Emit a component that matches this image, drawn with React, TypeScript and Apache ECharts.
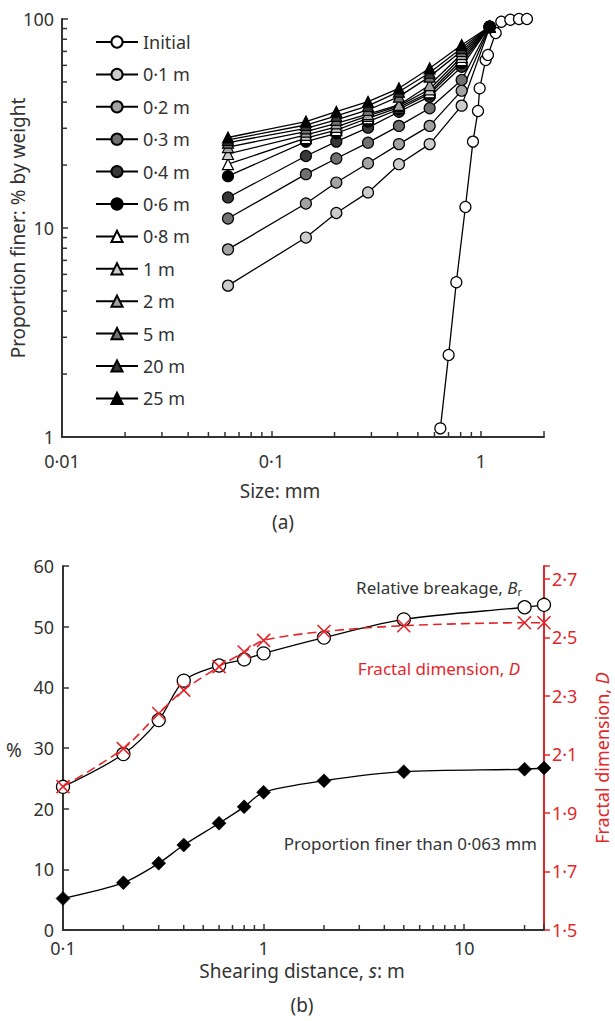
import React, { useEffect, useRef } from "react";
import * as echarts from "echarts";

// ---------- Panel (a) data ----------
const sieveSizes = [0.062, 0.146, 0.204, 0.289, 0.406, 0.569, 0.809, 1.1];
const initialSizes = [0.64, 0.701, 0.763, 0.843, 0.916, 0.968, 0.986, 1.053, 1.08, 1.176, 1.251, 1.381, 1.519, 1.658];
const initialFiner = [1.1, 2.47, 5.5, 12.6, 25.9, 36.3, 46.6, 63.6, 67.3, 85.7, 97, 99.2, 100, 100];

const s01 = [5.3, 9.0, 11.8, 14.8, 20.2, 25.2, 38.5, 91];
const s02 = [7.9, 13.1, 16.5, 20.4, 25.2, 30.8, 45.4, 91.5];
const s03 = [11.1, 18.1, 21.5, 25.6, 30.8, 37.4, 51.1, 92];
const s04 = [14.0, 22.1, 25.9, 30.2, 36.0, 42.5, 59.1, 92];
const s06 = [17.7, 25.9, 28.4, 32.3, 37.0, 43.8, 61.6, 92];
const s08 = [20.2, 26.9, 29.4, 33.5, 37.8, 44.6, 63.6, 92];
const s1 = [22.6, 27.9, 30.5, 34.4, 38.4, 46.1, 65.8, 92];
const s2 = [24.4, 28.9, 31.7, 35.1, 38.8, 48.3, 68.0, 92];
const s5 = [25.6, 30.0, 32.9, 36.7, 42.5, 53.0, 70.3, 92];
const s20 = [26.4, 31.1, 34.4, 38.4, 44.9, 55.3, 72.6, 92];
const s25 = [27.1, 32.3, 36.0, 40.2, 46.6, 58.1, 75.1, 92];

const seriesNamesA = ["Initial", "0·1 m", "0·2 m", "0·3 m", "0·4 m", "0·6 m", "0·8 m", "1 m", "2 m", "5 m", "20 m", "25 m"];

const xMinorA = [0.02, 0.03, 0.04, 0.05, 0.06, 0.07, 0.08, 0.09, 0.2, 0.3, 0.4, 0.5, 0.6, 0.7, 0.8, 0.9];
const yMinorA = [2, 3, 4, 5, 6, 7, 8, 9, 20, 30, 40, 50, 60, 70, 80, 90];

// ---------- Panel (b) data ----------
const shearDist = [0.1, 0.2, 0.3, 0.4, 0.6, 0.8, 1, 2, 5, 20, 25];
const relBreakage = [23.6, 29.0, 34.6, 41.1, 43.6, 44.6, 45.6, 48.2, 51.2, 53.2, 53.6];
const fractalD = [1.99, 2.12, 2.24, 2.32, 2.40, 2.45, 2.49, 2.52, 2.54, 2.55, 2.55];
const finer063 = [5.2, 7.8, 11.0, 14.0, 17.6, 20.3, 22.7, 24.6, 26.1, 26.5, 26.7];

const xMinorB = [0.2, 0.3, 0.4, 0.5, 0.6, 0.7, 0.8, 0.9, 2, 3, 4, 5, 6, 7, 8, 9, 20];

const FONT = '"Noto Sans", sans-serif';
const FS = 18;
const FT = 19;
const TXT = "#333";
const AX = "#333";
const RED = "#e3262b";

const dot = (s: string) => s.replace(".", "·");

function logLabel(v: number) {
  const l = Math.log10(v);
  if (Math.abs(l - Math.round(l)) > 1e-6) return "";
  return dot(String(Number(v.toPrecision(6))));
}

function tickSeries(xi: number, yi: number, data: number[][], dx: number, dy: number, color: string) {
  return {
    type: "custom",
    xAxisIndex: xi,
    yAxisIndex: yi,
    silent: true,
    clip: false,
    z: 1,
    encode: { x: 0, y: 1 },
    data,
    renderItem: (params: any, api: any) => {
      const p = api.coord([api.value(0), api.value(1)]);
      return {
        type: "line",
        shape: { x1: p[0], y1: p[1], x2: p[0] + dx, y2: p[1] + dy },
        style: { stroke: color, lineWidth: 1.5 },
      };
    },
  };
}

export default function App() {
  const ref = useRef<HTMLDivElement>(null);
  useEffect(() => {
    document.body.style.margin = "0";
    const chart = echarts.init(ref.current!, undefined, { renderer: "svg" });

    const styleA = [
      { sym: "circle", fill: "#ffffff" },
      { sym: "circle", fill: "#cccccc" },
      { sym: "circle", fill: "#a3a3a3" },
      { sym: "circle", fill: "#707070" },
      { sym: "circle", fill: "#383838" },
      { sym: "circle", fill: "#000000" },
      { sym: "triangle", fill: "#ffffff" },
      { sym: "triangle", fill: "#cccccc" },
      { sym: "triangle", fill: "#a3a3a3" },
      { sym: "triangle", fill: "#707070" },
      { sym: "triangle", fill: "#383838" },
      { sym: "triangle", fill: "#000000" },
    ];
    const valsA = [s01, s02, s03, s04, s06, s08, s1, s2, s5, s20, s25];

    const lineSeriesA: any[] = seriesNamesA.map((name, i) => {
      const data =
        i === 0
          ? initialSizes.map((s, k) => [s, initialFiner[k]])
          : sieveSizes.map((s, k) => [s, valsA[i - 1][k]]);
      return {
        type: "line",
        name,
        xAxisIndex: 0,
        yAxisIndex: 0,
        data,
        symbol: styleA[i].sym,
        symbolSize: 11,
        z: 3 + i,
        itemStyle: { color: styleA[i].fill, borderColor: "#000", borderWidth: 1.2 },
        lineStyle: { color: "#000", width: 1.3 },
      };
    });

    const option: any = {
      animation: false,
      textStyle: { fontFamily: FONT },
      grid: [
        { left: 62, top: 19, width: 482, height: 418 },
        { left: 63, top: 566, width: 481, height: 364 },
      ],
      legend: {
        data: seriesNamesA,
        orient: "vertical",
        left: 90,
        top: 28,
        itemWidth: 42,
        itemHeight: 14,
        itemGap: 14.4,
        textStyle: { fontFamily: FONT, fontSize: FS, color: TXT },
        selectedMode: false,
      },
      xAxis: [
        {
          type: "log",
          gridIndex: 0,
          min: 0.01,
          max: 2,
          logBase: 10,
          axisLine: { lineStyle: { color: AX, width: 2 } },
          axisTick: { inside: true, length: 6, lineStyle: { color: AX, width: 1.5 } },
          axisLabel: { formatter: logLabel, fontSize: FS, color: TXT, margin: 15, fontFamily: FONT },
          splitLine: { show: false },
        },
        {
          type: "log",
          gridIndex: 1,
          min: 0.1,
          max: 25,
          logBase: 10,
          axisLine: { lineStyle: { color: AX, width: 2 } },
          axisTick: { inside: true, length: 6, lineStyle: { color: AX, width: 1.5 } },
          axisLabel: { formatter: logLabel, fontSize: FS, color: TXT, margin: 9, fontFamily: FONT },
          splitLine: { show: false },
        },
      ],
      yAxis: [
        {
          type: "log",
          gridIndex: 0,
          min: 1,
          max: 100,
          logBase: 10,
          axisLine: { show: true, lineStyle: { color: AX, width: 2 } },
          axisTick: { show: true, inside: true, length: 6, lineStyle: { color: AX, width: 1.5 } },
          axisLabel: { formatter: logLabel, fontSize: FS, color: TXT, margin: 8, fontFamily: FONT },
          splitLine: { show: false },
        },
        {
          type: "value",
          gridIndex: 1,
          min: 0,
          max: 60,
          interval: 10,
          axisLine: { show: true, lineStyle: { color: AX, width: 2 } },
          axisTick: { show: true, inside: true, length: 6, lineStyle: { color: AX, width: 1.5 } },
          axisLabel: { fontSize: FS, color: TXT, margin: 9, fontFamily: FONT },
          splitLine: { show: false },
        },
        {
          type: "value",
          gridIndex: 1,
          position: "right",
          min: 1.5,
          max: 2.744,
          interval: 0.2,
          axisLine: { show: true, lineStyle: { color: RED, width: 2 } },
          axisTick: { show: true, inside: false, length: 6, lineStyle: { color: RED, width: 1.5 } },
          axisLabel: {
            fontSize: FS,
            color: RED,
            margin: 8,
            fontFamily: FONT,
            formatter: (v: number) => {
              const k = (v - 1.5) / 0.2;
              if (Math.abs(k - Math.round(k)) > 1e-6) return "";
              return dot(v.toFixed(1));
            },
          },
          splitLine: { show: false },
        },
      ],
      series: [
        ...lineSeriesA,
        tickSeries(0, 0, xMinorA.map((v) => [v, 1]), 0, -5, AX),
        tickSeries(0, 0, yMinorA.map((v) => [0.01, v]), 5, 0, AX),
        tickSeries(1, 1, xMinorB.map((v) => [v, 0]), 0, -5, AX),
        {
          type: "line",
          name: "Relative breakage",
          xAxisIndex: 1,
          yAxisIndex: 1,
          data: shearDist.map((s, k) => [s, relBreakage[k]]),
          smooth: 0.3,
          symbol: "circle",
          symbolSize: 13,
          z: 5,
          itemStyle: { color: "#fff", borderColor: "#000", borderWidth: 1.3 },
          lineStyle: { color: "#000", width: 1.3 },
        },
        {
          type: "line",
          name: "Fractal dimension",
          xAxisIndex: 1,
          yAxisIndex: 2,
          data: shearDist.map((s, k) => [s, fractalD[k]]),
          smooth: 0.3,
          symbol: "path://M0,0L10,10M10,0L0,10",
          symbolSize: 13,
          z: 6,
          itemStyle: { color: RED, borderColor: RED, borderWidth: 1.6 },
          lineStyle: { color: RED, width: 1.6, type: [9, 5] },
        },
        {
          type: "line",
          name: "Proportion finer",
          xAxisIndex: 1,
          yAxisIndex: 1,
          data: shearDist.map((s, k) => [s, finer063[k]]),
          smooth: 0.3,
          symbol: "diamond",
          symbolSize: 14,
          z: 5,
          itemStyle: { color: "#000", borderColor: "#000", borderWidth: 0.5 },
          lineStyle: { color: "#000", width: 1.3 },
        },
      ],
      graphic: [
        {
          type: "text",
          x: 18,
          y: 228,
          rotation: Math.PI / 2,
          style: { text: "Proportion finer: % by weight", font: `${FT}px ${FONT}`, fill: TXT, align: "center", verticalAlign: "middle" },
        },
        {
          type: "text",
          x: 280,
          y: 491,
          style: { text: "Size: mm", font: `${FT}px ${FONT}`, fill: TXT, align: "center", verticalAlign: "middle" },
        },
        {
          type: "text",
          x: 283,
          y: 522,
          style: { text: "(a)", font: `${FT}px ${FONT}`, fill: TXT, align: "center", verticalAlign: "middle" },
        },
        {
          type: "text",
          x: 14,
          y: 750,
          style: { text: "%", font: `${FT}px ${FONT}`, fill: TXT, align: "center", verticalAlign: "middle" },
        },
        {
          type: "text",
          x: 602,
          y: 758,
          rotation: Math.PI / 2,
          style: {
            text: "Fractal dimension, {i|D}",
            font: `${FS}px ${FONT}`,
            fill: RED,
            align: "center",
            verticalAlign: "middle",
            rich: { i: { fontStyle: "italic", fontSize: FS, fontFamily: FONT, fill: RED } },
          },
        },
        {
          type: "text",
          x: 522,
          y: 587,
          style: {
            text: "Relative breakage, {i|B}{s|r}",
            font: `${FS - 1}px ${FONT}`,
            fill: TXT,
            align: "right",
            verticalAlign: "middle",
            rich: {
              i: { fontStyle: "italic", fontSize: FS - 1, fontFamily: FONT, fill: TXT },
              s: { fontSize: 11, fontFamily: FONT, fill: TXT, verticalAlign: "bottom", padding: [8, 0, 0, 0] },
            },
          },
        },
        {
          type: "text",
          x: 520,
          y: 668,
          style: {
            text: "Fractal dimension, {i|D}",
            font: `${FS - 1}px ${FONT}`,
            fill: RED,
            align: "right",
            verticalAlign: "middle",
            rich: { i: { fontStyle: "italic", fontSize: FS - 1, fontFamily: FONT, fill: RED } },
          },
        },
        {
          type: "text",
          x: 537,
          y: 843,
          style: {
            text: "Proportion finer than 0·063 mm",
            font: `${FS - 1}px ${FONT}`,
            fill: TXT,
            align: "right",
            verticalAlign: "middle",
          },
        },
        {
          type: "text",
          x: 302,
          y: 971,
          style: {
            text: "Shearing distance, {i|s}: m",
            font: `${FT}px ${FONT}`,
            fill: TXT,
            align: "center",
            verticalAlign: "middle",
            rich: { i: { fontStyle: "italic", fontSize: FT, fontFamily: FONT, fill: TXT } },
          },
        },
        {
          type: "text",
          x: 302,
          y: 1005,
          style: { text: "(b)", font: `${FT}px ${FONT}`, fill: TXT, align: "center", verticalAlign: "middle" },
        },
      ],
    };
    chart.setOption(option);
    return () => chart.dispose();
  }, []);
  return <div ref={ref} style={{ width: 615, height: 1021 }} />;
}
